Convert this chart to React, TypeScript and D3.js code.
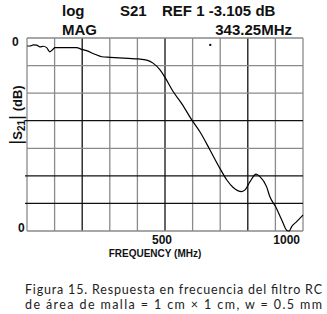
import * as React from 'react';
import * as d3 from 'd3';

// S21 trace (MHz, dB)
const freqMHz = [1, 11, 23, 35, 47, 59, 71, 83, 95, 101, 132, 180, 198, 216, 246, 271, 301, 367, 403, 434, 458, 482, 500, 530, 560, 597, 627, 663, 699, 724, 747, 778, 790, 808, 830, 844, 868, 880, 901, 923, 943, 950, 959, 977, 1000];
const s21dB = [-2.9, -2.9, -2.5, -2.6, -3.2, -3.0, -3.5, -5.0, -4.0, -3.5, -3.5, -3.5, -4.1, -4.6, -5.9, -6.8, -7.0, -7.4, -7.6, -8.0, -9.2, -11.6, -14.3, -19.5, -23.7, -29.7, -34.1, -40.6, -47.3, -51.5, -54.2, -55.7, -55.1, -52.1, -49.4, -50.3, -53.9, -57.6, -61.2, -66.0, -69.9, -70.0, -68.4, -66.6, -64.2];

const xGrid = [0, 100, 200, 300, 400, 500, 600, 700, 800, 900, 1000];
const xGridDark = [200, 500, 800];
const yGrid = [0, -10, -20, -30, -40, -50, -60, -70];
const yGridDark = [-30, -50, -60];
const xTickLabels = [{ v: 500, t: '500' }, { v: 1000, t: '1000' }];
const markerPoint = { f: 664, dB: -2.5 };

const header = ['log', 'S21', 'REF 1 -3.105 dB', 'MAG', '343.25MHz'];
const captionLines = [
  'Figura 15. Respuesta en frecuencia del filtro RC',
  'de área de malla = 1 cm × 1 cm, w = 0.5 mm',
];

const BOLD = '"Liberation Sans", Arial, sans-serif';

class App extends React.Component {
  private element;
  componentDidMount() {
    this.init();
  }
  init() {
    const svg = d3.select(this.element)
      .attr('width', 327)
      .attr('height', 314);
    svg.selectAll('*').remove();

    const x = d3.scaleLinear().domain([0, 1000]).range([27, 303]);
    const y = d3.scaleLinear().domain([-70, 0]).range([231, 38]);

    const g = svg.append('g');

    // grid
    g.selectAll('line.vx').data(xGrid).enter().append('line')
      .attr('x1', d => x(d)).attr('x2', d => x(d))
      .attr('y1', y(0)).attr('y2', y(-70))
      .attr('stroke', d => xGridDark.includes(d) ? '#111' : '#8a8a8a')
      .attr('stroke-width', 1.3);
    g.selectAll('line.hy').data(yGrid).enter().append('line')
      .attr('x1', d => yGridDark.includes(d) ? x(0) - 2 : x(0)).attr('x2', x(1000))
      .attr('y1', d => y(d)).attr('y2', d => y(d))
      .attr('stroke', d => yGridDark.includes(d) ? '#111' : '#8a8a8a')
      .attr('stroke-width', 1.3);

    // trace
    const line = d3.line<number>()
      .x((d, i) => x(freqMHz[i]))
      .y(d => y(d))
      .curve(d3.curveMonotoneX);
    g.append('path')
      .attr('d', line(s21dB))
      .attr('fill', 'none')
      .attr('stroke', '#000')
      .attr('stroke-width', 1.2);

    g.append('rect')
      .attr('x', x(markerPoint.f) - 1).attr('y', y(markerPoint.dB) - 1)
      .attr('width', 2).attr('height', 2).attr('fill', '#000');

    // header
    const hdr = svg.append('g')
      .attr('font-family', BOLD).attr('font-weight', 'bold')
      .attr('font-size', '15px').attr('fill', '#111');
    hdr.append('text').attr('x', 62).attr('y', 16).text(header[0]);
    hdr.append('text').attr('x', 120).attr('y', 16).text(header[1]);
    hdr.append('text').attr('x', 162).attr('y', 16).text(header[2]);
    hdr.append('text').attr('x', 62).attr('y', 35).text(header[3]);
    hdr.append('text').attr('x', 292).attr('y', 35).attr('text-anchor', 'end').text(header[4]);

    // axis labels
    const ax = svg.append('g')
      .attr('font-family', BOLD).attr('font-weight', 'bold').attr('fill', '#111');
    ax.append('text').attr('x', 12).attr('y', 46).attr('font-size', '12px').text('0');
    ax.append('text').attr('x', 18).attr('y', 232).attr('font-size', '12px').text('0');
    ax.selectAll('text.xt').data(xTickLabels).enter().append('text')
      .attr('x', d => x(d.v) - 3)
      .attr('y', 244)
      .attr('font-size', '12px')
      .attr('text-anchor', d => d.v === 1000 ? 'end' : 'middle')
      .text(d => d.t);
    ax.append('text').attr('x', 155).attr('y', 257).attr('font-size', '10px')
      .attr('text-anchor', 'middle').text('FREQUENCY (MHz)');

    const yl = ax.append('text')
      .attr('transform', 'translate(22,115) rotate(-90)')
      .attr('text-anchor', 'middle')
      .attr('font-size', '13px');
    yl.append('tspan').attr('font-size', '19px').attr('font-weight', 'normal').text('|');
    yl.append('tspan').text('S');
    yl.append('tspan').attr('font-size', '10px').attr('dy', 3).text('21');
    yl.append('tspan').attr('font-size', '19px').attr('font-weight', 'normal').attr('dy', -3).text('|');
    yl.append('tspan').text(' (dB)');

    // caption
    svg.append('g')
      .attr('font-family', 'Lato, "Open Sans", sans-serif')
      .attr('font-size', '12.5px').attr('fill', '#222')
      .selectAll('text').data(captionLines).enter().append('text')
      .attr('x', 25).attr('y', (d, i) => 294 + i * 15)
      .attr('textLength', 297)
      .attr('lengthAdjust', 'spacing')
      .text(d => d);
  }
  render() {
    return <svg ref={(ref) => (this.element = ref)} style={{ position: 'absolute', left: 0, top: 0 }} />;
  }
}

export default App;
